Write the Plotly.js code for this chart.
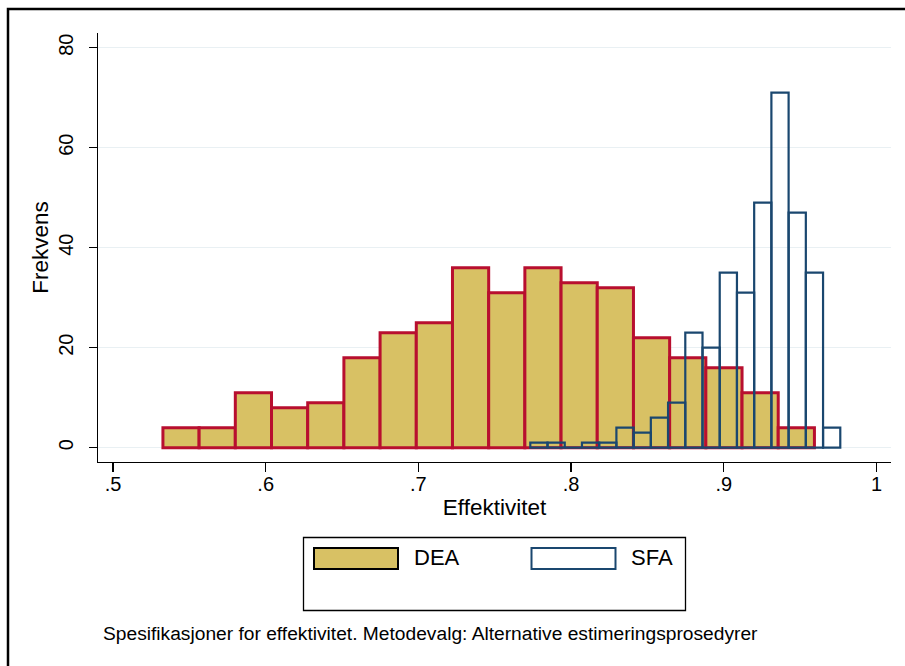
<!DOCTYPE html>
<html>
<head>
<meta charset="utf-8">
<script src="https://cdn.plot.ly/plotly-3.0.1.min.js"></script>
<style>
  html, body { margin: 0; padding: 0; background: #ffffff; }
  #chart { width: 905px; height: 666px; }
</style>
</head>
<body>
<div id="chart"></div>
<script>
// ---- Data ----
const deaCounts = [4, 4, 11, 8, 9, 18, 23, 25, 36, 31, 36, 33, 32, 22, 18, 16, 11, 4];
const deaBinStart = 0.5327;
const deaBinWidth = 0.023703;

const sfaCounts = [1, 1, 0, 1, 1, 4, 3, 6, 9, 23, 20, 35, 31, 49, 71, 47, 35, 4];
const sfaBinStart = 0.77328;
const sfaBinWidth = 0.011278;

const xTickVals = [0.5, 0.6, 0.7, 0.8, 0.9, 1.0];
const xTickText = ['.5', '.6', '.7', '.8', '.9', '1'];
const yTickVals = [0, 20, 40, 60, 80];

const seriesNames = ['DEA', 'SFA'];
const xTitle = 'Effektivitet';
const yTitle = 'Frekvens';
const caption = 'Spesifikasjoner for effektivitet. Metodevalg: Alternative estimeringsprosedyrer';

// ---- Styling ----
const FONT = '"Liberation Sans", Arial, Helvetica, sans-serif';
const sand = '#d8c164';
const crimson = '#b80f2f';
const navy = '#1a476f';

function centers(start, width, n) {
  const out = [];
  for (let i = 0; i < n; i++) out.push(start + (i + 0.5) * width);
  return out;
}

const traces = [
  {
    type: 'bar',
    name: seriesNames[0],
    x: centers(deaBinStart, deaBinWidth, deaCounts.length),
    y: deaCounts,
    width: deaBinWidth,
    marker: { color: sand, line: { color: crimson, width: 3 } },
    showlegend: false,
    hoverinfo: 'x+y'
  },
  {
    type: 'bar',
    name: seriesNames[1],
    x: centers(sfaBinStart, sfaBinWidth, sfaCounts.length),
    y: sfaCounts,
    width: sfaBinWidth,
    marker: { color: 'rgba(0,0,0,0)', line: { color: navy, width: 2.2 } },
    showlegend: false,
    hoverinfo: 'x+y'
  }
];

// plot area in pixels
const L = 98, R = 891, T = 33, B = 462;
const W = 905, H = 666;
function px(x) { return (x - L) / (R - L); }
function py(y) { return (B - y) / (B - T); }

const shapes = [
  // outer frame (cropped at right / bottom in the reference)
  { type: 'rect', xref: 'paper', yref: 'paper', x0: px(8), x1: px(930), y0: py(9), y1: py(700),
    line: { color: '#000000', width: 2.5 }, fillcolor: 'rgba(0,0,0,0)', layer: 'above' },
  // legend box
  { type: 'rect', xref: 'paper', yref: 'paper', x0: px(303.5), x1: px(685.5), y0: py(537.5), y1: py(610.5),
    line: { color: '#000000', width: 1.3 }, fillcolor: 'rgba(0,0,0,0)' },
  // DEA swatch
  { type: 'rect', xref: 'paper', yref: 'paper', x0: px(314), x1: px(398), y0: py(548), y1: py(569),
    line: { color: '#000000', width: 2 }, fillcolor: sand },
  // SFA swatch
  { type: 'rect', xref: 'paper', yref: 'paper', x0: px(531.5), x1: px(615.5), y0: py(548), y1: py(569),
    line: { color: navy, width: 2 }, fillcolor: '#ffffff' }
];

const annotations = [
  { xref: 'paper', yref: 'paper', x: px(412), y: py(557), xanchor: 'left', yanchor: 'middle',
    text: seriesNames[0], showarrow: false, font: { family: FONT, size: 22, color: '#000' } },
  { xref: 'paper', yref: 'paper', x: px(629), y: py(557), xanchor: 'left', yanchor: 'middle',
    text: seriesNames[1], showarrow: false, font: { family: FONT, size: 22, color: '#000' } },
  { xref: 'paper', yref: 'paper', x: px(101), y: py(633), xanchor: 'left', yanchor: 'middle',
    text: caption, showarrow: false, font: { family: FONT, size: 19.2, color: '#000' } }
];

const layout = {
  width: W, height: H,
  margin: { l: L, r: W - R, t: T, b: H - B, pad: 0 },
  paper_bgcolor: '#ffffff',
  plot_bgcolor: '#ffffff',
  barmode: 'overlay',
  font: { family: FONT, color: '#000000' },
  xaxis: {
    range: [0.49018, 1.0095],
    tickvals: xTickVals,
    ticktext: xTickText,
    ticks: 'outside', ticklen: 9, tickwidth: 1.2, tickcolor: '#000000',
    ticklabelstandoff: -5,
    showline: true, linecolor: '#000000', linewidth: 1.2,
    showgrid: false, zeroline: false,
    tickfont: { family: FONT, size: 20, color: '#000' },
    title: { text: xTitle, font: { family: FONT, size: 22.5, color: '#000' }, standoff: 5 },
    automargin: false, fixedrange: true
  },
  yaxis: {
    range: [-2.86, 82.94],
    tickvals: yTickVals,
    ticks: 'outside', ticklen: 8, tickwidth: 1.2, tickcolor: '#000000',
    tickangle: -90,
    ticklabelstandoff: 8,
    showline: true, linecolor: '#000000', linewidth: 1.2,
    showgrid: true, gridcolor: '#e9f0f3', gridwidth: 1.4,
    zeroline: false,
    tickfont: { family: FONT, size: 20, color: '#000' },
    title: { text: yTitle, font: { family: FONT, size: 22.5, color: '#000' }, standoff: 0 },
    automargin: false, fixedrange: true
  },
  shapes: shapes,
  annotations: annotations,
  showlegend: false
};

Plotly.newPlot('chart', traces, layout, { displayModeBar: false, staticPlot: true });
</script>
</body>
</html>
